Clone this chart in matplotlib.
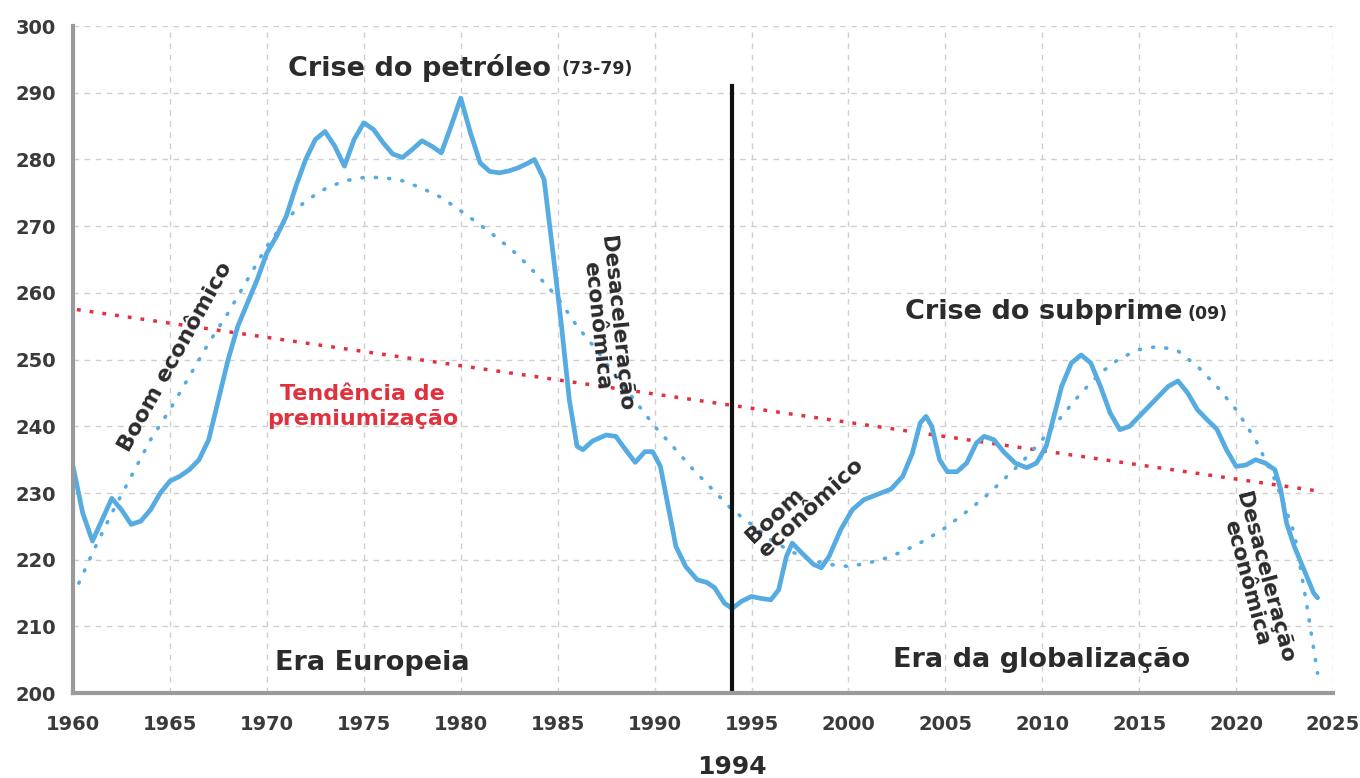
import matplotlib.pyplot as plt

# main series
years = [1960.0, 1960.5, 1961.0, 1961.5, 1962.0, 1962.5, 1963.0, 1963.5, 1964.0, 1964.5,
         1965.0, 1965.5, 1966.0, 1966.5, 1967.0, 1967.5, 1968.0, 1968.5, 1969.0, 1969.5,
         1970.0, 1970.5, 1971.0, 1971.5, 1972.0, 1972.5, 1973.0, 1973.5, 1974.0, 1974.5,
         1975.0, 1975.5, 1976.0, 1976.5, 1977.0, 1977.5, 1978.0, 1978.5, 1979.0, 1979.5,
         1980.0, 1980.5, 1981.0, 1981.5, 1982.0, 1982.5, 1983.0, 1983.5, 1983.8, 1984.3,
         1984.8, 1985.2, 1985.6, 1986.0, 1986.3, 1986.8, 1987.5, 1988.0, 1988.5, 1989.0,
         1989.5, 1989.9, 1990.3, 1990.7, 1991.1, 1991.6, 1992.2, 1992.7, 1993.1, 1993.6,
         1994.0, 1994.5, 1995.0, 1995.5, 1996.0, 1996.4, 1996.8, 1997.1, 1997.6, 1998.2,
         1998.6, 1999.0, 1999.6, 2000.2, 2000.8, 2001.5, 2002.2, 2002.8, 2003.3, 2003.7,
         2004.0, 2004.3, 2004.7, 2005.1, 2005.6, 2006.1, 2006.6, 2007.0, 2007.5, 2008.0,
         2008.6, 2009.2, 2009.7, 2010.2, 2010.6, 2011.0, 2011.5, 2012.0, 2012.5, 2013.0,
         2013.5, 2014.0, 2014.5, 2015.0, 2015.5, 2016.0, 2016.5, 2017.0, 2017.5, 2018.0,
         2018.5, 2019.0, 2019.5, 2020.0, 2020.5, 2021.0, 2021.5, 2022.0, 2022.3, 2022.6,
         2023.0, 2023.5, 2024.0, 2024.2]
values = [234.0, 227.0, 222.8, 226.0, 229.2, 227.5, 225.3, 225.8, 227.5, 230.0,
          231.8, 232.5, 233.5, 235.0, 238.0, 244.0, 250.0, 255.0, 258.5, 262.0,
          266.0, 268.5, 271.5, 276.0, 280.0, 283.0, 284.2, 282.0, 279.0, 283.0,
          285.5, 284.5, 282.5, 280.8, 280.3, 281.5, 282.8, 282.0, 281.0, 285.0,
          289.2, 284.0, 279.5, 278.2, 278.0, 278.3, 278.8, 279.5, 280.0, 277.0,
          265.0, 255.0, 244.0, 237.0, 236.5, 237.8, 238.7, 238.5, 236.5, 234.6,
          236.2, 236.2, 234.0, 228.0, 222.0, 219.0, 217.0, 216.6, 215.8, 213.5,
          212.7, 213.8, 214.5, 214.2, 214.0, 215.5, 220.5, 222.5, 221.0, 219.3,
          218.8, 220.5, 224.5, 227.5, 229.0, 229.8, 230.6, 232.5, 236.0, 240.5,
          241.5, 240.0, 235.0, 233.2, 233.2, 234.5, 237.5, 238.5, 238.0, 236.2,
          234.5, 233.8, 234.5, 237.0, 241.5, 246.0, 249.5, 250.7, 249.5, 246.0,
          242.0, 239.5, 240.0, 241.5, 243.0, 244.5, 246.0, 246.8, 245.0, 242.5,
          241.0, 239.6, 236.5, 234.0, 234.2, 235.0, 234.5, 233.5, 230.5, 225.5,
          222.0, 218.5, 215.0, 214.3]

# blue dotted cycle curve
cycle_years = [1960.3, 1961, 1962, 1963, 1964, 1965, 1966, 1967, 1968, 1969,
               1970, 1971, 1972, 1973, 1974, 1975, 1976, 1977, 1978, 1979,
               1980, 1981, 1982, 1983, 1984, 1985, 1986, 1987, 1988, 1989,
               1990, 1991, 1992, 1993, 1994, 1995, 1996, 1997, 1998, 1999,
               2000, 2001, 2002, 2003, 2004, 2005, 2006, 2007, 2008, 2009,
               2010, 2011, 2012, 2013, 2014, 2015, 2016, 2017, 2018, 2019,
               2020, 2021, 2022, 2023, 2023.6, 2024.2]
cycle_values = [216.5, 221.0, 227.0, 232.5, 238.0, 242.5, 247.5, 252.5, 257.0, 262.0,
                267.0, 271.0, 273.8, 275.6, 276.8, 277.3, 277.3, 276.8, 275.7, 274.3,
                272.3, 270.2, 268.0, 265.5, 262.5, 259.3, 255.0, 251.5, 247.5, 243.8,
                240.0, 236.8, 233.5, 230.5, 227.5, 225.3, 223.0, 221.3, 220.0, 219.3,
                219.0, 219.5, 220.3, 221.5, 223.0, 224.8, 227.0, 229.3, 232.0, 234.8,
                238.0, 241.5, 245.0, 248.0, 250.2, 251.5, 252.0, 251.3, 249.0, 246.0,
                242.5, 238.0, 232.0, 224.0, 214.0, 203.0]

# red dotted premiumization trend
trend_years = [1960.2, 2024.0]
trend_values = [257.5, 230.4]

x_ticks = [1960, 1965, 1970, 1975, 1980, 1985, 1990, 1995, 2000, 2005, 2010, 2015, 2020, 2025]
y_ticks = [200, 210, 220, 230, 240, 250, 260, 270, 280, 290, 300]

blue = "#56abe0"
red = "#e0323e"
dark = "#2b2b2b"

fig = plt.figure(figsize=(13.6, 7.78), dpi=100)
ax = fig.add_axes([0.0537, 0.109, 0.9265, 0.8575])

ax.grid(True, linestyle=(0, (4, 4)), color="#cfcfcf", linewidth=1)
ax.set_axisbelow(True)

ax.plot(trend_years, trend_values, color=red, linestyle=(0, (1.1, 2.6)), linewidth=2.5)
ax.plot(cycle_years, cycle_values, color=blue, linestyle=(0, (0.3, 3.4)), linewidth=2.6,
        dash_capstyle="round")
ax.plot(years, values, color=blue, linewidth=3.4, solid_joinstyle="round", solid_capstyle="round")
ax.plot([1994, 1994], [200, 291], color="#111111", linewidth=3)

ax.set_xlim(1960, 2025)
ax.set_ylim(200, 300)
ax.set_xticks(x_ticks)
ax.set_yticks(y_ticks)
ax.tick_params(length=0, labelsize=14, labelcolor="#3a3a3a")
ax.tick_params(axis="y", pad=12)
ax.tick_params(axis="x", pad=16)
for lbl in ax.get_xticklabels() + ax.get_yticklabels():
    lbl.set_fontweight("bold")

for side in ["top", "right"]:
    ax.spines[side].set_visible(False)
for side in ["left", "bottom"]:
    ax.spines[side].set_color("#9a9a9a")
    ax.spines[side].set_linewidth(3)

# annotations
ax.text(1971.1, 293.7, "Crise do petróleo", fontsize=19.5, fontweight="bold", color=dark, va="center")
ax.text(1985.2, 293.5, "(73-79)", fontsize=12.5, fontweight="bold", color=dark, va="center")
ax.text(2002.9, 257.1, "Crise do subprime", fontsize=19.5, fontweight="bold", color=dark, va="center")
ax.text(2017.5, 256.9, "(09)", fontsize=12.5, fontweight="bold", color=dark, va="center")
ax.text(1970.4, 204.5, "Era Europeia", fontsize=19.5, fontweight="bold", color=dark, va="center")
ax.text(2002.3, 205.0, "Era da globalização", fontsize=19.5, fontweight="bold", color=dark, va="center")
ax.text(1974.95, 243.0, "Tendência de\npremiumização", fontsize=16, fontweight="bold", color=red,
        ha="center", va="center", linespacing=1.3)
ax.text(1965.3, 250.4, "Boom econômico", fontsize=16, fontweight="bold", color=dark,
        rotation=61, ha="center", va="center", rotation_mode="anchor")
ax.text(1987.5, 255.2, "Desaceleração\neconômica", fontsize=15.5, fontweight="bold", color=dark,
        rotation=-84, ha="center", va="center", rotation_mode="anchor", linespacing=0.95)
ax.text(1997.75, 228.9, "Boom\neconômico", fontsize=16, fontweight="bold", color=dark,
        rotation=43, ha="center", va="center", rotation_mode="anchor", multialignment="left",
        linespacing=0.95)
ax.text(2021.0, 216.9, "Desaceleração\neconômica", fontsize=15.5, fontweight="bold", color=dark,
        rotation=-75, ha="center", va="center", rotation_mode="anchor", linespacing=0.95)

# year marker under the axis
ax.text(1994, 188.9, "1994", fontsize=18, fontweight="bold", color=dark, ha="center", va="center",
        clip_on=False)

fig.savefig("out.png", dpi=100)
